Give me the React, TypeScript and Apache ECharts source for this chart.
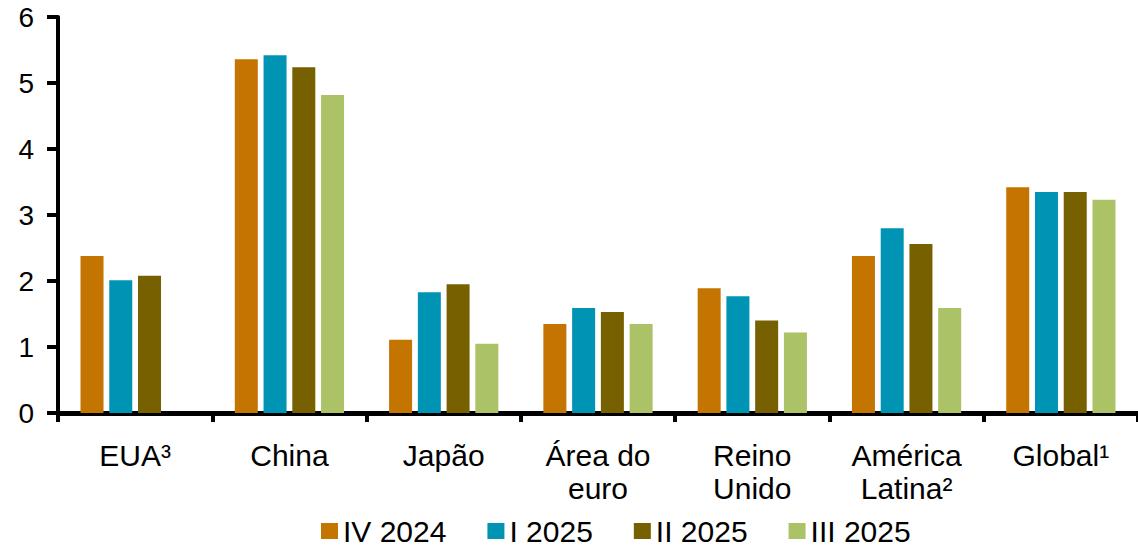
import React, { useEffect, useRef } from "react";
import * as echarts from "echarts";

const categories = ["EUA³", "China", "Japão", "Área do\neuro", "Reino\nUnido", "América\nLatina²", "Global¹"];
const seriesNames = ["IV 2024", "I 2025", "II 2025", "III 2025"];
const iv2024 = [2.38, 5.36, 1.11, 1.35, 1.89, 2.38, 3.42];
const i2025 = [2.01, 5.42, 1.83, 1.59, 1.77, 2.8, 3.35];
const ii2025 = [2.08, 5.24, 1.95, 1.53, 1.4, 2.56, 3.35];
const iii2025 = [null, 4.82, 1.05, 1.35, 1.22, 1.59, 3.23];
const yTicks = [0, 1, 2, 3, 4, 5, 6];
const colors = ["#C47400", "#0094B4", "#766000", "#ACC267"];

const FONT = "'Liberation Sans', Arial, sans-serif";

export default function App() {
  const ref = useRef<HTMLDivElement>(null);
  useEffect(() => {
    const chart = echarts.init(ref.current!, null, { renderer: "svg" });
    const data = [iv2024, i2025, ii2025, iii2025];
    chart.setOption({
      animation: false,
      textStyle: { fontFamily: FONT },
      legend: {
        data: seriesNames,
        left: 321,
        top: 516,
        padding: 0,
        icon: "rect",
        itemWidth: 17,
        itemHeight: 16,
        itemGap: 41,
        textStyle: { fontSize: 30, lineHeight: 30, color: "#000", fontFamily: FONT },
      },
      grid: { left: 58, right: -16, top: 17, bottom: 135, containLabel: false },
      xAxis: {
        type: "category",
        data: categories,
        axisLine: { lineStyle: { color: "#000", width: 5 } },
        axisTick: { show: true, length: 9, lineStyle: { color: "#000", width: 4 } },
        axisLabel: {
          fontSize: 30,
          lineHeight: 33,
          color: "#000",
          margin: 26,
          fontFamily: FONT,
          interval: 0,
        },
      },
      yAxis: {
        type: "value",
        min: yTicks[0],
        max: yTicks[yTicks.length - 1],
        interval: 1,
        splitLine: { show: false },
        axisLine: { show: true, lineStyle: { color: "#000", width: 4 } },
        axisTick: { show: true, length: 11, lineStyle: { color: "#000", width: 4 } },
        axisLabel: { fontSize: 28, color: "#000", margin: 24, fontFamily: FONT },
      },
      series: seriesNames.map((name, i) => ({
        name,
        type: "bar",
        data: data[i],
        barWidth: 23,
        barGap: "25%",
        itemStyle: { color: colors[i] },
      })),
    });
    return () => chart.dispose();
  }, []);
  return (
    <div
      ref={ref}
      style={{ position: "fixed", left: 0, top: 0, width: 1138, height: 548, background: "#fff" }}
    />
  );
}
